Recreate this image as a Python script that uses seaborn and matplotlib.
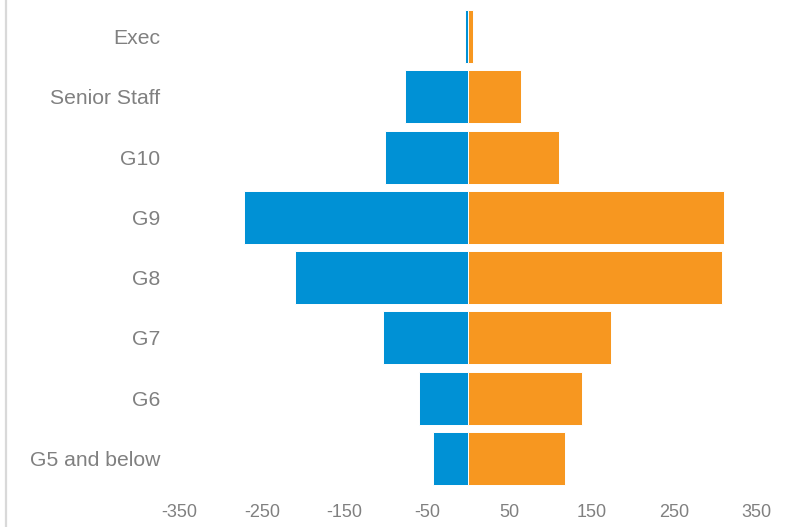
import matplotlib
matplotlib.use("Agg")
import matplotlib.pyplot as plt
from matplotlib.lines import Line2D
import seaborn as sns
import pandas as pd

categories = ["Exec", "Senior Staff", "G10", "G9", "G8", "G7", "G6", "G5 and below"]
left_values = [-4, -76, -101, -272, -210, -103, -60, -43]
right_values = [6, 64, 110, 310, 308, 173, 138, 118]
series_names = ["Series 1", "Series 2"]
tick_values = [-350, -250, -150, -50, 50, 150, 250, 350]
tick_labels = ["-350", "-250", "-150", "-50", "50", "150", "250", "350"]

colors = {"Series 1": "#0091D5", "Series 2": "#F79720"}

df = pd.DataFrame({
    "category": categories * 2,
    "value": left_values + right_values,
    "series": [series_names[0]] * len(categories) + [series_names[1]] * len(categories),
})

sns.set_theme(style="white")
plt.rcParams["font.family"] = ["Liberation Sans", "DejaVu Sans"]

fig = plt.figure(figsize=(7.94, 5.27), dpi=100)
ax = fig.add_axes([179.5 / 794, (527 - 488.6) / 527, 577 / 794, 482 / 527])

sns.barplot(data=df, x="value", y="category", hue="series", order=categories,
            hue_order=series_names, palette=colors, dodge=False, orient="h",
            width=0.88, edgecolor="white", linewidth=0.7, saturation=1,
            ax=ax, legend=False)

ax.set_xlim(-350, 350)
ax.set_ylim(len(categories) - 0.5, -0.5)
ax.set_xticks(tick_values)
ax.set_xticklabels(tick_labels)
ax.set_xlabel("")
ax.set_ylabel("")
for s in ax.spines.values():
    s.set_visible(False)
ax.grid(False)
ax.tick_params(axis="x", length=0, pad=11, labelsize=13, labelcolor="#808080")
ax.tick_params(axis="y", length=0, pad=14, labelsize=15.2, labelcolor="#808080")

fig.add_artist(Line2D([5.5 / 794, 5.5 / 794], [0, 1], color="#D9D9D9", lw=1.6,
                      transform=fig.transFigure))

fig.savefig("out.png", dpi=100, facecolor="white")
